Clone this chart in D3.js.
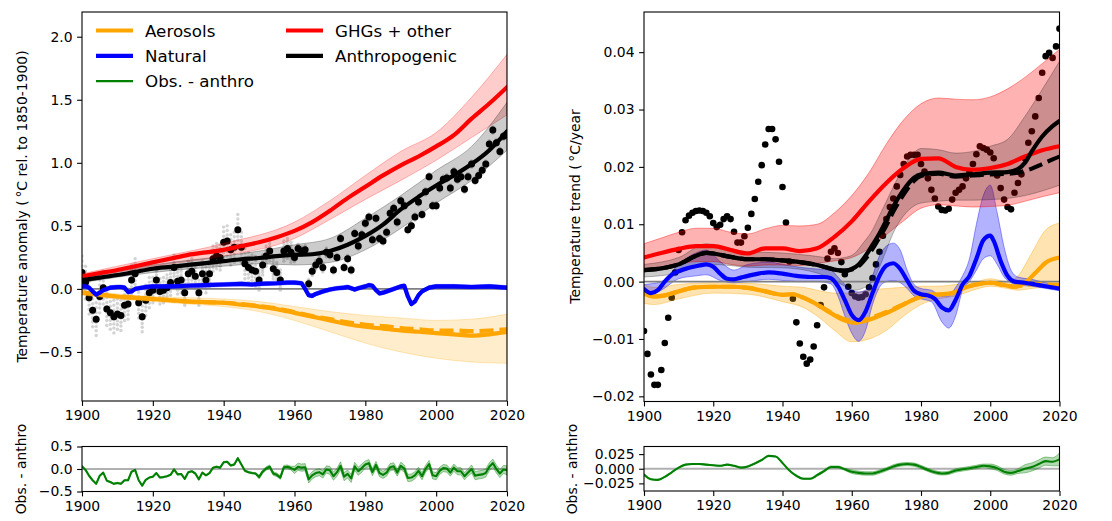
<!DOCTYPE html>
<html>
<head>
<meta charset="utf-8">
<script src="https://cdn.jsdelivr.net/npm/d3@7"></script>
<style>
  body { margin: 0; background: #fff; }
  text { font-family: "DejaVu Sans", sans-serif; fill: #000; }
</style>
</head>
<body>
<script>
// ---------------------------------------------------------------------------
// Data
// ---------------------------------------------------------------------------
const obsYears = d3.range(1900, 2021);

// Observed annual anomaly (°C rel. to 1850-1900)
const obsAnomaly = [
  0.13, 0.05, -0.07, -0.17, -0.24, -0.06, 0.01, -0.16, -0.19, -0.22,
  -0.20, -0.21, -0.13, -0.12, 0.07, 0.12, -0.11, -0.22, -0.09, -0.03,
  -0.01, 0.07, -0.02, -0.01, 0.01, 0.05, 0.17, 0.06, 0.07, -0.03,
  0.12, 0.14, 0.10, -0.03, 0.12, 0.07, 0.12, 0.24, 0.26, 0.25,
  0.37, 0.38, 0.31, 0.33, 0.47, 0.33, 0.20, 0.17, 0.15, 0.14,
  0.07, 0.19, 0.26, 0.30, 0.16, 0.13, 0.07, 0.30, 0.32, 0.29,
  0.25, 0.32, 0.30, 0.31, 0.04, 0.14, 0.19, 0.22, 0.17, 0.29,
  0.27, 0.15, 0.25, 0.40, 0.17, 0.24, 0.15, 0.44, 0.34, 0.43,
  0.52, 0.57, 0.39, 0.56, 0.40, 0.38, 0.45, 0.60, 0.64, 0.53,
  0.70, 0.66, 0.47, 0.50, 0.57, 0.69, 0.59, 0.77, 0.89, 0.66,
  0.66, 0.80, 0.87, 0.88, 0.80, 0.93, 0.87, 0.89, 0.79, 0.89,
  0.99, 0.86, 0.90, 0.94, 0.99, 1.15, 1.26, 1.16, 1.09, 1.21,
  1.22
];
// Ensemble spread of the observational members, per decade (1900s ... 2020)
const memberSpread = [0.13, 0.12, 0.10, 0.10, 0.12, 0.08, 0.035, 0.025, 0.025, 0.025, 0.025, 0.025, 0.025];
// Relative positions of the individual ensemble members within that spread
const memberOffsets = [-1.0, -0.7, -0.45, -0.2, 0.15, 0.4, 0.7, 1.0];

// Attributed warming, 5-year nodes
const nodeYears = d3.range(1900, 2021, 5);
const ghgAnomaly = [0.10, 0.125, 0.15, 0.18, 0.21, 0.24, 0.27, 0.29, 0.31, 0.34, 0.37, 0.41, 0.46,
                    0.53, 0.62, 0.72, 0.81, 0.90, 0.98, 1.05, 1.13, 1.22, 1.35, 1.47, 1.60];
const anthroAnomaly = [0.07, 0.09, 0.11, 0.135, 0.16, 0.175, 0.19, 0.205, 0.22, 0.235, 0.245, 0.26, 0.27,
                       0.275, 0.30, 0.35, 0.42, 0.51, 0.63, 0.73, 0.82, 0.90, 0.99, 1.10, 1.25];
const aerosolAnomaly = [-0.03, -0.045, -0.06, -0.07, -0.08, -0.09, -0.10, -0.105, -0.11, -0.125, -0.14, -0.16, -0.19,
                        -0.22, -0.25, -0.28, -0.30, -0.315, -0.33, -0.34, -0.35, -0.36, -0.37, -0.36, -0.34];
const aerosolAnomalyAlt = [-0.03, -0.045, -0.06, -0.07, -0.08, -0.09, -0.10, -0.105, -0.11, -0.12, -0.135, -0.155, -0.185,
                           -0.215, -0.24, -0.265, -0.285, -0.295, -0.31, -0.32, -0.33, -0.33, -0.335, -0.33, -0.32];

const ghgBandYears = [1900, 1920, 1940, 1960, 1970, 1980, 1990, 2000, 2010, 2020];
const ghgBandLow  = [0.08, 0.18, 0.26, 0.40, 0.55, 0.71, 0.86, 1.02, 1.20, 1.38];
const ghgBandHigh = [0.12, 0.24, 0.36, 0.53, 0.70, 0.90, 1.09, 1.24, 1.52, 1.86];

const anthroBandYears = [1900, 1920, 1940, 1950, 1960, 1970, 1980, 1990, 2000, 2010, 2020];
const anthroBandLow  = [0.05, 0.13, 0.18, 0.20, 0.19, 0.21, 0.31, 0.48, 0.68, 0.86, 1.10];
const anthroBandHigh = [0.09, 0.19, 0.26, 0.30, 0.35, 0.40, 0.56, 0.74, 0.94, 1.13, 1.48];

const aerosolBandYears = [1900, 1910, 1920, 1930, 1940, 1950, 1960, 1970, 1980, 1990, 2000, 2010, 2020];
const aerosolBandLow  = [-0.05, -0.08, -0.10, -0.12, -0.14, -0.18, -0.25, -0.34, -0.43, -0.50, -0.55, -0.58, -0.59];
const aerosolBandHigh = [-0.015, -0.04, -0.06, -0.07, -0.08, -0.10, -0.14, -0.18, -0.21, -0.23, -0.25, -0.24, -0.20];

const naturalYears = [1900, 1901, 1902, 1903, 1904, 1905, 1906, 1908, 1910, 1911, 1912, 1913, 1914, 1915, 1916,
  1918, 1920, 1925, 1930, 1935, 1940, 1945, 1948, 1950, 1955, 1958, 1960, 1962, 1963, 1964, 1965, 1966,
  1968, 1970, 1972, 1974, 1975, 1976, 1977, 1978, 1980, 1981, 1982, 1983, 1984, 1985, 1986, 1988, 1990,
  1991, 1992, 1993, 1994, 1995, 1996, 1998, 2000, 2005, 2010, 2015, 2020];
const naturalAnomaly = [0.02, 0.02, 0.01, -0.02, -0.045, -0.03, -0.01, 0.01, 0.015, 0.015, 0.01, -0.025, -0.02, 0.00, 0.005,
  0.015, 0.02, 0.02, 0.025, 0.03, 0.035, 0.04, 0.035, 0.04, 0.045, 0.05, 0.05, 0.045, 0.00, -0.05, -0.055, -0.04,
  -0.02, -0.005, 0.005, 0.01, 0.015, 0.005, -0.005, 0.005, 0.02, 0.03, 0.025, -0.01, -0.035, -0.03, -0.02, 0.00, 0.02,
  0.025, -0.06, -0.12, -0.10, -0.05, -0.02, 0.01, 0.02, 0.02, 0.015, 0.02, 0.01];
const naturalSpread = 0.016;

// Observed minus anthropogenic, annual
const residAnomaly = [
  0.06, -0.02, -0.15, -0.25, -0.33, -0.15, -0.08, -0.26, -0.29, -0.33,
  -0.31, -0.33, -0.25, -0.25, -0.06, -0.02, -0.25, -0.37, -0.24, -0.19,
  -0.17, -0.09, -0.19, -0.18, -0.16, -0.13, -0.01, -0.12, -0.11, -0.22,
  -0.07, -0.05, -0.10, -0.23, -0.08, -0.14, -0.09, 0.03, 0.05, 0.03,
  0.15, 0.16, 0.08, 0.10, 0.24, 0.10, -0.04, -0.07, -0.09, -0.10,
  -0.18, -0.06, 0.01, 0.05, -0.10, -0.13, -0.19, 0.04, 0.05, 0.02,
  -0.02, 0.05, 0.03, 0.04, -0.23, -0.14, -0.09, -0.07, -0.12, -0.01,
  -0.03, -0.16, -0.07, 0.07, -0.17, -0.11, -0.21, 0.06, -0.05, 0.02,
  0.10, 0.13, -0.07, 0.09, -0.09, -0.13, -0.08, 0.04, 0.06, -0.08,
  0.07, 0.01, -0.20, -0.19, -0.14, -0.04, -0.16, 0.00, 0.11, -0.14,
  -0.16, -0.04, 0.02, 0.01, -0.08, 0.03, -0.05, -0.05, -0.16, -0.08,
  0.00, -0.15, -0.13, -0.12, -0.09, 0.05, 0.13, 0.00, -0.10, -0.01,
  -0.03
];
const residSpread = [0.012, 0.012, 0.012, 0.014, 0.018, 0.04, 0.08, 0.09, 0.08, 0.08, 0.08, 0.09, 0.10];

// Observed trend (°C/year), annual
const trendObs = [
  -0.0086, -0.0126, -0.0162, -0.0180, -0.0180, -0.0154, -0.0107, -0.0063, -0.0028, 0.0016,
  0.0055, 0.0086, 0.0107, 0.0115, 0.0120, 0.0123, 0.0124, 0.0123, 0.0120, 0.0114,
  0.0102, 0.0095, 0.0099, 0.0109, 0.0114, 0.0109, 0.0087, 0.0068, 0.0068, 0.0079,
  0.0094, 0.0118, 0.0144, 0.0174, 0.0203, 0.0239, 0.0266, 0.0266, 0.0248, 0.0209,
  0.0165, 0.0103, 0.0035, -0.0030, -0.0071, -0.0108, -0.0131, -0.0143, -0.0136, -0.0113,
  -0.0076, -0.0041, -0.0010, 0.0040, 0.0052, 0.0058, 0.0050, 0.0034, 0.0013, -0.0009,
  -0.0020, -0.0026, -0.0028, -0.0027, -0.0022, -0.0010, 0.0006, 0.0030, 0.0052, 0.0080,
  0.0109, 0.0130, 0.0145, 0.0166, 0.0186, 0.0205, 0.0218, 0.0221, 0.0221, 0.0221,
  0.0205, 0.0192, 0.0180, 0.0160, 0.0145, 0.0131, 0.0125, 0.0124, 0.0127, 0.0143,
  0.0155, 0.0160, 0.0166, 0.0180, 0.0190, 0.0205, 0.0222, 0.0236, 0.0233, 0.0230,
  0.0225, 0.0215, 0.0185, 0.0163, 0.0143, 0.0130, 0.0126, 0.0155, 0.0172, 0.0187,
  0.0215, 0.0242, 0.0262, 0.0288, 0.0320, 0.0364, 0.0393, 0.0399, 0.0390, 0.0410,
  0.0441
];

const ghgTrend = [0.0042, 0.0050, 0.0057, 0.0062, 0.0062, 0.0055, 0.0049, 0.0058, 0.0058, 0.0053, 0.0058, 0.0078, 0.0105,
                  0.0140, 0.0172, 0.0198, 0.0214, 0.0215, 0.0200, 0.0195, 0.0198, 0.0205, 0.0218, 0.0229, 0.0236];
const ghgTrendLow  = [0.0020, 0.0025, 0.0030, 0.0035, 0.0035, 0.0030, 0.0027, 0.0029, 0.0029, 0.0028, 0.0032, 0.0036, 0.0042,
                      0.0058, 0.0082, 0.0106, 0.0128, 0.0134, 0.0132, 0.0130, 0.0131, 0.0133, 0.0140, 0.0148, 0.0155];
const ghgTrendHigh = [0.0066, 0.0076, 0.0086, 0.0093, 0.0093, 0.0086, 0.0083, 0.0092, 0.0098, 0.0097, 0.0100, 0.0120, 0.0150,
                      0.0190, 0.0240, 0.0282, 0.0310, 0.0320, 0.0318, 0.0317, 0.0322, 0.0336, 0.0356, 0.0380, 0.0405];

const anthroTrendYears = [1900, 1905, 1910, 1915, 1918, 1920, 1925, 1930, 1935, 1940, 1945, 1950, 1955, 1958, 1960, 1962,
  1964, 1966, 1968, 1970, 1972, 1975, 1978, 1980, 1985, 1990, 1995, 2000, 2005, 2008, 2010, 2012, 2015, 2018, 2020];
const anthroTrend = [0.0020, 0.0023, 0.0030, 0.0045, 0.0050, 0.0049, 0.0043, 0.0039, 0.0039, 0.0037, 0.0034, 0.0029, 0.0021,
  0.0019, 0.0022, 0.0030, 0.0045, 0.0064, 0.0084, 0.0107, 0.0131, 0.0160, 0.0181, 0.0187, 0.0190, 0.0185, 0.0187, 0.0190,
  0.0191, 0.0196, 0.0207, 0.0227, 0.0253, 0.0271, 0.0280];
const anthroTrendAlt = [0.0020, 0.0023, 0.0030, 0.0045, 0.0050, 0.0049, 0.0043, 0.0039, 0.0039, 0.0037, 0.0034, 0.0029, 0.0021,
  0.0019, 0.0021, 0.0027, 0.0040, 0.0057, 0.0077, 0.0098, 0.0122, 0.0152, 0.0176, 0.0184, 0.0188, 0.0183, 0.0185, 0.0187,
  0.0188, 0.0190, 0.0193, 0.0197, 0.0205, 0.0213, 0.0218];
const anthroTrendBandYears = [1900, 1910, 1918, 1925, 1930, 1940, 1950, 1955, 1958, 1961, 1963, 1966, 1968, 1970, 1972, 1975,
  1978, 1980, 1985, 1990, 1995, 2000, 2005, 2010, 2015, 2020];
const anthroTrendLow  = [0.0008, 0.0015, 0.0030, 0.0028, 0.0025, 0.0024, 0.0015, 0.0002, -0.0008, -0.0015, -0.0012, 0.0000,
  0.0025, 0.0055, 0.0085, 0.0115, 0.0132, 0.0137, 0.0140, 0.0142, 0.0142, 0.0143, 0.0145, 0.0150, 0.0158, 0.0168];
const anthroTrendHigh = [0.0030, 0.0042, 0.0066, 0.0058, 0.0052, 0.0050, 0.0044, 0.0040, 0.0042, 0.0050, 0.0065, 0.0090,
  0.0115, 0.0140, 0.0165, 0.0200, 0.0225, 0.0232, 0.0230, 0.0224, 0.0227, 0.0236, 0.0248, 0.0288, 0.0335, 0.0384];

const naturalTrendYears = [1900, 1902, 1904, 1906, 1908, 1910, 1913, 1916, 1918, 1920, 1922, 1924, 1926, 1928, 1930, 1933,
  1936, 1940, 1944, 1948, 1952, 1954, 1956, 1958, 1960, 1962, 1964, 1966, 1968, 1970, 1972, 1974, 1976, 1978, 1980, 1982,
  1984, 1986, 1988, 1990, 1992, 1994, 1996, 1998, 2000, 2001, 2003, 2005, 2007, 2010, 2013, 2016, 2020];
const naturalTrend = [-0.0013, -0.0020, -0.0015, 0.0000, 0.0012, 0.0018, 0.0024, 0.0028, 0.0030, 0.0026, 0.0014, 0.0005,
  0.0004, 0.0007, 0.0010, 0.0014, 0.0016, 0.0014, 0.0010, 0.0008, 0.0008, 0.0006, -0.0008, -0.0032, -0.0058, -0.0067,
  -0.0052, -0.0020, 0.0010, 0.0028, 0.0032, 0.0022, 0.0002, -0.0016, -0.0022, -0.0024, -0.0030, -0.0045, -0.0050, -0.0032,
  -0.0005, 0.0010, 0.0040, 0.0072, 0.0080, 0.0071, 0.0036, 0.0010, 0.0000, -0.0002, -0.0005, -0.0008, -0.0012];
const naturalTrendBandYears = [1900, 1905, 1910, 1915, 1918, 1922, 1926, 1930, 1936, 1940, 1945, 1950, 1954, 1956, 1958,
  1960, 1962, 1964, 1966, 1968, 1970, 1972, 1974, 1976, 1978, 1980, 1983, 1986, 1988, 1990, 1992, 1994, 1996, 1998, 2000,
  2002, 2004, 2006, 2008, 2012, 2016, 2020];
const naturalTrendLow = [-0.0025, -0.0015, 0.0005, 0.0010, 0.0012, 0.0002, -0.0002, 0.0000, 0.0004, 0.0002, 0.0000, 0.0000,
  -0.0004, -0.0025, -0.0060, -0.0090, -0.0104, -0.0085, -0.0040, -0.0010, 0.0000, 0.0002, -0.0002, -0.0012, -0.0025,
  -0.0030, -0.0035, -0.0070, -0.0081, -0.0060, -0.0015, 0.0000, 0.0020, 0.0040, 0.0045, 0.0030, 0.0008, -0.0002, -0.0006,
  -0.0008, -0.0012, -0.0016];
const naturalTrendHigh = [-0.0005, 0.0000, 0.0030, 0.0050, 0.0055, 0.0035, 0.0020, 0.0030, 0.0034, 0.0030, 0.0025, 0.0022,
  0.0020, 0.0008, -0.0005, -0.0015, -0.0018, -0.0015, 0.0010, 0.0045, 0.0062, 0.0067, 0.0055, 0.0020, -0.0005, -0.0012,
  -0.0015, -0.0025, -0.0025, -0.0010, 0.0010, 0.0040, 0.0100, 0.0150, 0.0168, 0.0120, 0.0060, 0.0020, 0.0008, 0.0004,
  -0.0002, -0.0006];

const aerosolTrendYears = [1900, 1903, 1906, 1910, 1915, 1920, 1925, 1930, 1935, 1940, 1943, 1946, 1950, 1954, 1958, 1961,
  1964, 1967, 1970, 1974, 1978, 1982, 1986, 1989, 1992, 1996, 2000, 2004, 2007, 2010, 2013, 2016, 2020];
const aerosolTrend = [-0.0020, -0.0026, -0.0024, -0.0017, -0.0010, -0.0009, -0.0009, -0.0011, -0.0017, -0.0023, -0.0022,
  -0.0028, -0.0040, -0.0055, -0.0068, -0.0072, -0.0068, -0.0062, -0.0055, -0.0043, -0.0031, -0.0023, -0.0022, -0.0020,
  -0.0012, -0.0005, -0.0002, -0.0006, -0.0009, -0.0002, 0.0015, 0.0033, 0.0042];
const aerosolTrendAlt = [-0.0020, -0.0026, -0.0024, -0.0017, -0.0010, -0.0009, -0.0009, -0.0011, -0.0017, -0.0023, -0.0022,
  -0.0028, -0.0040, -0.0054, -0.0066, -0.0069, -0.0066, -0.0060, -0.0053, -0.0042, -0.0031, -0.0023, -0.0022, -0.0020,
  -0.0012, -0.0005, -0.0002, -0.0006, -0.0009, -0.0006, -0.0004, -0.0005, -0.0006];
const aerosolTrendBandYears = [1900, 1903, 1910, 1920, 1930, 1940, 1946, 1950, 1955, 1960, 1965, 1970, 1975, 1980, 1985,
  1990, 1995, 2000, 2005, 2008, 2012, 2016, 2020];
const aerosolTrendLow = [-0.0038, -0.0040, -0.0030, -0.0020, -0.0022, -0.0035, -0.0045, -0.0060, -0.0085, -0.0105, -0.0100,
  -0.0085, -0.0060, -0.0040, -0.0030, -0.0025, -0.0015, -0.0008, -0.0012, -0.0015, -0.0012, -0.0010, -0.0010];
const aerosolTrendHigh = [-0.0005, -0.0010, -0.0005, -0.0002, -0.0003, -0.0008, -0.0010, -0.0015, -0.0020, -0.0020, -0.0015,
  -0.0012, -0.0010, -0.0008, -0.0008, -0.0005, -0.0002, 0.0005, 0.0000, 0.0010, 0.0050, 0.0090, 0.0102];

// Observed minus anthropogenic trend, 2-year steps
const residTrendYears = d3.range(1900, 2021, 2);
const residTrend = [-0.010, -0.018, -0.019, -0.014, -0.006, 0.002, 0.007, 0.008, 0.008, 0.007, 0.006, 0.005, 0.007, 0.005,
  0.002, 0.004, 0.009, 0.015, 0.022, 0.021, 0.010, -0.003, -0.012, -0.017, -0.017, -0.011, -0.004, 0.003, 0.003, -0.001,
  -0.005, -0.007, -0.008, -0.008, -0.005, -0.001, 0.004, 0.007, 0.008, 0.007, 0.003, -0.002, -0.006, -0.008, -0.007,
  -0.003, -0.001, 0.001, 0.003, 0.005, 0.004, 0.001, -0.005, -0.007, -0.004, 0.000, 0.003, 0.008, 0.013, 0.012, 0.016];
const residTrendSpread = [0.0008, 0.0008, 0.0008, 0.0008, 0.0008, 0.0018, 0.0030, 0.0028, 0.0028, 0.0030, 0.0040, 0.0070, 0.0110];

// Axis ticks and text
const xTicks = [1900, 1920, 1940, 1960, 1980, 2000, 2020];
const anomalyTicks = [-0.5, 0, 0.5, 1, 1.5, 2];
const trendTicks = [-0.02, -0.01, 0, 0.01, 0.02, 0.03, 0.04];
const residTicks = [-0.5, 0, 0.5];
const residTrendTicks = [-0.025, 0, 0.025];
const legendLabels = ["Aerosols", "Natural", "Obs. - anthro", "GHGs + other", "Anthropogenic"];
const legendColors = ["orange", "blue", "green", "red", "black"];
const legendWidths = [4.2, 4.2, 2.1, 4.2, 4.2];

// ---------------------------------------------------------------------------
// Drawing
// ---------------------------------------------------------------------------
const svg = d3.select("body").append("svg").attr("width", 1112).attr("height", 521);
const defs = svg.append("defs");
const FS = 13.9;

function makePanel(id, x0, x1, y0, y1, ydom) {
  defs.append("clipPath").attr("id", id).append("rect")
    .attr("x", x0).attr("y", y0).attr("width", x1 - x0).attr("height", y1 - y0);
  const p = {
    x0, x1, y0, y1,
    x: d3.scaleLinear().domain([1900, 2020]).range([x0, x1]),
    y: d3.scaleLinear().domain(ydom).range([y1, y0])
  };
  p.g = svg.append("g").attr("clip-path", `url(#${id})`);
  return p;
}

const pA = makePanel("clipA", 82, 507, 12, 401, [-0.889, 2.196]);
const pB = makePanel("clipB", 644, 1059.5, 12, 401.5, [-0.0209, 0.047]);
const pC = makePanel("clipC", 82, 507, 446.5, 491.5, [-0.5, 0.5]);
const pD = makePanel("clipD", 644, 1059.5, 446.5, 491, [-0.038, 0.038]);

function drawLine(p, xs, ys, color, width, dash, curve) {
  const gen = d3.line().x(d => p.x(d[0])).y(d => p.y(d[1])).curve(curve || d3.curveLinear);
  p.g.append("path").attr("d", gen(d3.zip(xs, ys)))
    .attr("fill", "none").attr("stroke", color).attr("stroke-width", width)
    .attr("stroke-linejoin", "round")
    .attr("stroke-linecap", dash ? "butt" : "round")
    .attr("stroke-dasharray", dash || null);
}
function drawBand(p, xs, lo, hi, color, op, curve) {
  const gen = d3.area().x(d => p.x(d[0])).y0(d => p.y(d[1])).y1(d => p.y(d[2])).curve(curve || d3.curveLinear);
  p.g.append("path").attr("d", gen(d3.zip(xs, lo, hi)))
    .attr("fill", color).attr("fill-opacity", op)
    .attr("stroke", color).attr("stroke-opacity", Math.min(1, op * 1.3)).attr("stroke-width", 1);
}
function zeroLine(p, color, width, op) {
  p.g.append("line").attr("x1", p.x0).attr("x2", p.x1).attr("y1", p.y(0)).attr("y2", p.y(0))
    .attr("stroke", color).attr("stroke-width", width).attr("stroke-opacity", op);
}
function drawAxes(p, yTicks, fmt) {
  const gx = svg.append("g").attr("transform", `translate(0,${p.y1})`)
    .call(d3.axisBottom(p.x).tickValues(xTicks).tickFormat(d3.format("d")).tickSize(4.9).tickPadding(4.6).tickSizeOuter(0));
  const gy = svg.append("g").attr("transform", `translate(${p.x0},0)`)
    .call(d3.axisLeft(p.y).tickValues(yTicks).tickFormat(d3.format(fmt)).tickSize(4.9).tickPadding(4.6).tickSizeOuter(0));
  [gx, gy].forEach(g => {
    g.select(".domain").remove();
    g.selectAll(".tick line").attr("stroke", "#000").attr("stroke-width", 1.1);
    g.selectAll(".tick text").style("font-size", FS + "px").style("font-family", '"DejaVu Sans", sans-serif').attr("fill", "#000");
  });
  svg.append("rect").attr("x", p.x0).attr("y", p.y0).attr("width", p.x1 - p.x0).attr("height", p.y1 - p.y0)
    .attr("fill", "none").attr("stroke", "#000").attr("stroke-width", 1.1);
}
function yLabel(x, y, parts) {
  const t = svg.append("text").attr("transform", `translate(${x},${y}) rotate(-90)`)
    .attr("text-anchor", "middle").attr("dominant-baseline", "central").style("font-size", FS + "px");
  parts.forEach(s => t.append("tspan").text(s));
}

const mono = d3.curveMonotoneX;
const decade = yr => Math.floor((yr - 1900) / 10);

// ---- Panel A: temperature anomaly ----------------------------------------
zeroLine(pA, "#808080", 1.6, 1);
// individual observational ensemble members
const members = [];
obsYears.forEach((yr, i) => memberOffsets.forEach(k => members.push([yr, obsAnomaly[i] + k * memberSpread[decade(yr)]])));
pA.g.append("g").selectAll("circle").data(members).join("circle")
  .attr("cx", d => pA.x(d[0])).attr("cy", d => pA.y(d[1])).attr("r", 1.7)
  .attr("fill", "#808080").attr("fill-opacity", 0.35);
pA.g.append("g").selectAll("circle").data(d3.zip(obsYears, obsAnomaly)).join("circle")
  .attr("cx", d => pA.x(d[0])).attr("cy", d => pA.y(d[1])).attr("r", 3.5).attr("fill", "#000");

drawBand(pA, aerosolBandYears, aerosolBandLow, aerosolBandHigh, "orange", 0.2, mono);
drawBand(pA, naturalYears, naturalAnomaly.map(v => v - naturalSpread), naturalAnomaly.map(v => v + naturalSpread), "blue", 0.25);
drawBand(pA, ghgBandYears, ghgBandLow, ghgBandHigh, "red", 0.2, mono);
drawBand(pA, anthroBandYears, anthroBandLow, anthroBandHigh, "black", 0.2, mono);

drawLine(pA, nodeYears, aerosolAnomaly, "orange", 4.2, null, mono);
drawLine(pA, nodeYears, aerosolAnomalyAlt, "orange", 4.2, "14,6", mono);
drawLine(pA, naturalYears, naturalAnomaly, "blue", 4.2);
drawLine(pA, nodeYears, ghgAnomaly, "red", 4.2, null, mono);
drawLine(pA, nodeYears, anthroAnomaly, "black", 4.2, null, mono);

// legend
const legend = svg.append("g");
legendLabels.forEach((lab, i) => {
  const col = i < 3 ? 0 : 1, row = i < 3 ? i : i - 3;
  const hx = col === 0 ? 96 : 286, ty = 30.5 + row * 25.3;
  legend.append("line").attr("x1", hx).attr("x2", hx + 37).attr("y1", ty).attr("y2", ty)
    .attr("stroke", legendColors[i]).attr("stroke-width", legendWidths[i]);
  legend.append("text").attr("x", hx + 49).attr("y", ty).attr("dominant-baseline", "central")
    .style("font-size", "16.7px").text(lab);
});

// ---- Panel B: temperature trend ------------------------------------------
pB.g.append("g").selectAll("circle").data(d3.zip(obsYears, trendObs)).join("circle")
  .attr("cx", d => pB.x(d[0])).attr("cy", d => pB.y(d[1])).attr("r", 3.3).attr("fill", "#000");
drawBand(pB, aerosolTrendBandYears, aerosolTrendLow, aerosolTrendHigh, "orange", 0.3, mono);
drawBand(pB, naturalTrendBandYears, naturalTrendLow, naturalTrendHigh, "blue", 0.3, mono);
drawBand(pB, nodeYears, ghgTrendLow, ghgTrendHigh, "red", 0.3, mono);
drawBand(pB, anthroTrendBandYears, anthroTrendLow, anthroTrendHigh, "black", 0.2, mono);
zeroLine(pB, "#808080", 1.8, 1);
drawLine(pB, aerosolTrendYears, aerosolTrend, "orange", 4.2, null, mono);
drawLine(pB, aerosolTrendYears, aerosolTrendAlt, "orange", 4.2, "14,6", mono);
drawLine(pB, naturalTrendYears, naturalTrend, "blue", 4.2, null, mono);
drawLine(pB, nodeYears, ghgTrend, "red", 4.2, null, mono);
drawLine(pB, anthroTrendYears, anthroTrend, "black", 4.2, null, mono);
drawLine(pB, anthroTrendYears, anthroTrendAlt, "black", 4.2, "14,6", mono);

// ---- Panel C: observed minus anthropogenic -------------------------------
zeroLine(pC, "#b0b0b0", 2.2, 1);
drawBand(pC, obsYears, residAnomaly.map((v, i) => v - residSpread[decade(obsYears[i])]),
  residAnomaly.map((v, i) => v + residSpread[decade(obsYears[i])]), "green", 0.3);
drawLine(pC, obsYears, residAnomaly, "green", 2.1);

// ---- Panel D: observed minus anthropogenic trend -------------------------
zeroLine(pD, "#b0b0b0", 2.2, 1);
drawBand(pD, residTrendYears, residTrend.map((v, i) => v - residTrendSpread[decade(residTrendYears[i])]),
  residTrend.map((v, i) => v + residTrendSpread[decade(residTrendYears[i])]), "green", 0.3, mono);
drawLine(pD, residTrendYears, residTrend, "green", 2.1, null, mono);

// ---- Axes and labels -----------------------------------------------------
drawAxes(pA, anomalyTicks, ".1f");
drawAxes(pB, trendTicks, ".2f");
drawAxes(pC, residTicks, ".1f");
drawAxes(pD, residTrendTicks, ".3f");

yLabel(22, 206.5, ["Temperature anomaly (", "\u2009°C rel. to 1850-1900)"]);
yLabel(575, 206.5, ["Temperature trend (", "\u2009°C/year"]);
yLabel(21, 469, ["Obs. - anthro"]);
yLabel(572, 469, ["Obs. - anthro"]);
</script>
</body>
</html>
